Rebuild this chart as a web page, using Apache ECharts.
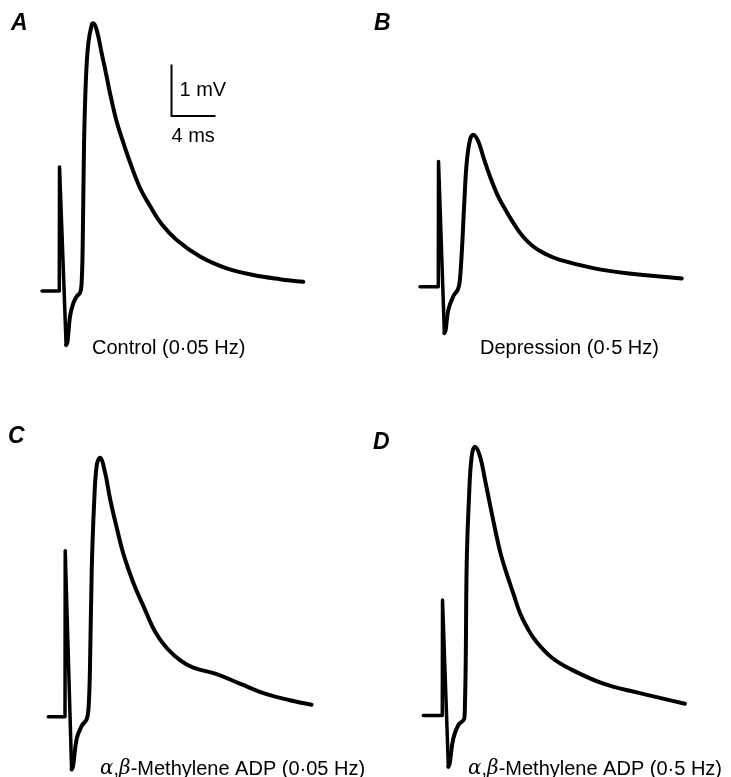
<!DOCTYPE html>
<html>
<head>
<meta charset="utf-8">
<script src="https://cdn.jsdelivr.net/npm/echarts@6/dist/echarts.min.js"></script>
<style>
  html, body { margin: 0; padding: 0; background: #ffffff; }
  #chart { width: 731px; height: 777px; }
</style>
</head>
<body>
<div id="chart"></div>
<script>
// Extracellularly recorded synaptic potentials: time after the stimulus (ms)
// and potential relative to baseline (mV), one pair of arrays per recording.
const timeA = [-1.57, 0, 0.02, 0.62, 0.75, 0.97, 1.27, 1.6, 1.88, 2.02, 2.13, 2.25, 2.43, 2.64, 2.95, 3.09, 3.4, 3.85, 4.31, 4.61, 5.2, 5.67, 6.43, 7.34, 8.25, 9.3, 10.67, 12.79, 15.22, 17.65, 20.06, 22.18];
const voltA = [0, 0, 2.41, -1.05, -0.98, -0.5, -0.24, -0.1, -0.04, 0.12, 0.93, 2.87, 4.16, 4.81, 5.17, 5.2, 5.07, 4.62, 4.16, 3.84, 3.3, 2.98, 2.5, 2.0, 1.65, 1.3, 0.99, 0.67, 0.44, 0.31, 0.23, 0.18];

const timeB = [-1.66, 0, 0.02, 0.55, 0.66, 0.91, 1.36, 1.76, 1.93, 2.13, 2.36, 2.58, 2.88, 3.18, 3.64, 4.09, 4.7, 5.45, 6.22, 6.82, 7.6, 8.63, 9.8, 11.06, 14.09, 17.13, 22.13];
const voltB = [0, 0, 2.43, -0.9, -0.85, -0.45, -0.19, -0.06, 0.07, 0.65, 1.62, 2.4, 2.85, 2.95, 2.82, 2.52, 2.14, 1.75, 1.45, 1.24, 1.0, 0.78, 0.63, 0.52, 0.36, 0.26, 0.16];

const timeC = [-1.52, 0, 0.02, 0.6, 0.73, 1.06, 1.52, 1.97, 2.14, 2.27, 2.43, 2.64, 2.88, 3.18, 3.64, 4.09, 4.7, 5.3, 6.21, 7.12, 8.18, 9.25, 10.45, 11.66, 13.79, 15.9, 18.33, 20.45, 22.42];
const voltC = [0, 0, 3.31, -1.05, -0.99, -0.44, -0.18, -0.05, 0.17, 0.98, 2.93, 4.22, 5.0, 5.16, 4.87, 4.35, 3.77, 3.25, 2.67, 2.21, 1.7, 1.37, 1.13, 0.98, 0.85, 0.66, 0.45, 0.33, 0.24];

const timeD = [-1.73, 0, 0.02, 0.55, 0.66, 1.0, 1.45, 2.0, 2.06, 2.13, 2.22, 2.43, 2.67, 2.97, 3.43, 3.88, 4.49, 5.25, 5.8, 6.5, 7.06, 7.8, 8.58, 10.0, 11.6, 14.64, 17.67, 22.06];
const voltD = [0, 0, 2.25, -1.0, -0.95, -0.45, -0.19, -0.06, 0.23, 1.04, 2.98, 4.27, 5.05, 5.24, 5.05, 4.6, 3.95, 3.2, 2.8, 2.35, 2.0, 1.68, 1.43, 1.12, 0.91, 0.62, 0.45, 0.23];

// index of the negative trough that follows the stimulus artefact
const TROUGH_INDEX = 3;

const panelLetters = ['A', 'B', 'C', 'D'];
const captions = [
  'Control (0·05 Hz)',
  'Depression (0·5 Hz)',
  '{g|α},{g|β}-Methylene ADP (0·05 Hz)',
  '{g|α},{g|β}-Methylene ADP (0·5 Hz)'
];

// Calibration bar (drawn in panel A's coordinates)
const scaleBarOrigin = [10.2, 3.4];   // ms, mV of the corner
const scaleBarMs = 4;
const scaleBarMv = 1;
const scaleBarLabels = ['1 mV', '4 ms'];

// ---------------------------------------------------------------------------
const traces = [[timeA, voltA], [timeB, voltB], [timeC, voltC], [timeD, voltD]];

// Every panel uses the same scale: 11 px per ms, 51.5 px per mV.
const X_MIN = -2, X_MAX = 23, Y_MIN = -1.2, Y_MAX = 5.5;
const PX_MS = 11, PX_MV = 51.5;
// pixel position of (0 ms, 0 mV) in each panel
const origins = [[59.3, 291], [438.3, 286.7], [65, 724], [442.3, 716.7]];

const FONT = '"Liberation Sans", Arial, Helvetica, sans-serif';

const grids = origins.map(([ox, oy]) => ({
  left: ox + X_MIN * PX_MS,
  top: oy - Y_MAX * PX_MV,
  width: (X_MAX - X_MIN) * PX_MS,
  height: (Y_MAX - Y_MIN) * PX_MV,
  containLabel: false
}));

const xAxes = grids.map((g, i) => ({
  type: 'value', gridIndex: i, min: X_MIN, max: X_MAX, show: false
}));
const yAxes = grids.map((g, i) => ({
  type: 'value', gridIndex: i, min: Y_MIN, max: Y_MAX, show: false
}));

const traceStyle = { color: '#000', width: 4, cap: 'round', join: 'round' };
const traceSeries = [];
traces.forEach(([t, v], i) => {
  const pts = t.map((x, k) => [x, v[k]]);
  // stimulus artefact: straight strokes
  traceSeries.push({
    type: 'line', xAxisIndex: i, yAxisIndex: i,
    data: pts.slice(0, TROUGH_INDEX + 1),
    showSymbol: false, smooth: false, clip: false,
    lineStyle: Object.assign({}, traceStyle, { width: 3.5 }),
    silent: true, animation: false
  });
  // synaptic response: smooth curve
  traceSeries.push({
    type: 'line', xAxisIndex: i, yAxisIndex: i,
    data: pts.slice(TROUGH_INDEX),
    showSymbol: false, smooth: 0.4, clip: false,
    lineStyle: traceStyle,
    silent: true, animation: false
  });
});

const [sx, sy] = scaleBarOrigin;
const scaleSeries = {
  type: 'line',
  xAxisIndex: 0,
  yAxisIndex: 0,
  data: [[sx, sy + scaleBarMv], [sx, sy], [sx + scaleBarMs, sy]],
  showSymbol: false,
  lineStyle: { color: '#000', width: 2, cap: 'butt', join: 'miter' },
  silent: true,
  animation: false
};
const scaleLabelSeries = {
  type: 'scatter',
  xAxisIndex: 0,
  yAxisIndex: 0,
  symbolSize: 0,
  silent: true,
  animation: false,
  itemStyle: { opacity: 1 },
  label: { show: true, color: '#000', fontFamily: FONT, fontSize: 20 },
  data: [
    { value: [sx, sy + scaleBarMv / 2], label: { position: 'right', distance: 8, formatter: scaleBarLabels[0] } },
    { value: [sx, sy], label: { position: 'bottom', align: 'left', distance: 11, formatter: scaleBarLabels[1] } }
  ]
};

// Text placement
const letterPos = [[11, 23.5], [374, 23.5], [8, 436.5], [373, 442.5]];
const captionPos = [[92, 348], [480, 348], [100, 769], [468, 769]];

const graphic = [];
panelLetters.forEach((s, i) => {
  graphic.push({
    type: 'text', x: letterPos[i][0], y: letterPos[i][1], silent: true,
    style: {
      text: s, fill: '#000', fontFamily: FONT, fontSize: 23, fontStyle: 'italic',
      fontWeight: 'bold', verticalAlign: 'middle', align: 'left'
    }
  });
});
captions.forEach((s, i) => {
  graphic.push({
    type: 'text', x: captionPos[i][0], y: captionPos[i][1], silent: true,
    style: {
      text: s, fill: '#000', fontFamily: FONT, fontSize: 20,
      verticalAlign: 'middle', align: 'left',
      rich: {
        g: { fontFamily: '"DejaVu Serif", "Liberation Serif", serif', fontStyle: 'italic', fontSize: 20, fill: '#000' }
      }
    }
  });
});

const chart = echarts.init(document.getElementById('chart'), null, { renderer: 'canvas' });
chart.setOption({
  backgroundColor: '#ffffff',
  animation: false,
  grid: grids,
  xAxis: xAxes,
  yAxis: yAxes,
  series: [...traceSeries, scaleSeries, scaleLabelSeries],
  graphic: graphic
});
</script>
</body>
</html>
